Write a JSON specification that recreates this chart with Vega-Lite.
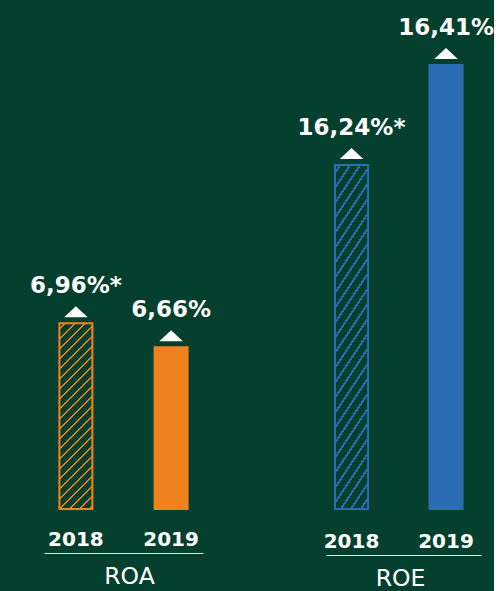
{
  "$schema": "https://vega.github.io/schema/vega-lite/v6.json",
  "background": "#053f2d",
  "padding": {"left": 29, "top": 5, "right": 0, "bottom": 0},
  "bounds": "flush",
  "spacing": 123,
  "config": {
    "view": {"stroke": null},
    "axis": {
      "labelFont": "DejaVu Sans",
      "labelFontWeight": "bold",
      "labelFontSize": 20,
      "labelColor": "#ffffff",
      "labelAngle": 0,
      "labelBaseline": "alphabetic",
      "ticks": false,
      "tickSize": 0,
      "domainColor": "#dfe5e2",
      "domainWidth": 1,
      "grid": false,
      "title": null
    },
    "title": {
      "font": "DejaVu Sans",
      "fontSize": 23.5,
      "fontWeight": "normal",
      "color": "#ffffff",
      "orient": "bottom",
      "anchor": "middle",
      "frame": "group",
      "offset": 12
    },
    "text": {"font": "DejaVu Sans", "fontWeight": "bold", "fontSize": 23, "color": "#ffffff", "baseline": "alphabetic", "align": "center"}
  },
  "data": {
    "values": [
      {"metric": "ROA", "year": "2018", "value": 6.96, "label": "6,96%*"},
      {"metric": "ROA", "year": "2019", "value": 6.66, "label": "6,66%"},
      {"metric": "ROE", "year": "2018", "value": 16.24, "label": "16,24%*"},
      {"metric": "ROE", "year": "2019", "value": 16.41, "label": "16,41%"}
    ]
  },
  "hconcat": [
    {
      "title": {"text": "ROA", "dx": 6},
      "width": 159,
      "height": 504,
      "transform": [{"filter": "datum.metric === 'ROA'"}],
      "encoding": {
        "x": {
          "field": "year", "type": "nominal",
          "scale": {"paddingInner": 0.33, "paddingOuter": 0},
          "axis": {"offset": 44, "labelPadding": -8}
        },
        "y": {
          "field": "value", "type": "quantitative",
          "scale": {"domain": [4.639, 10.939], "zero": false, "nice": false},
          "axis": null
        }
      },
      "layer": [
        {
          "transform": [{"filter": "datum.year === '2018'"}],
          "encoding": {"y2": {"datum": 4.639}},
          "mark": {
            "type": "bar", "width": 33, "stroke": "#f08220", "strokeWidth": 2,
            "fill": {
              "gradient": "linear", "x1": 0, "y1": 0, "x2": 0.2029, "y2": 1.1416,
              "stops": [
                {"offset": 0.0200, "color": "#053f2d"}, {"offset": 0.0200, "color": "#f08220"}, {"offset": 0.0310, "color": "#f08220"}, {"offset": 0.0310, "color": "#053f2d"},
                {"offset": 0.0657, "color": "#053f2d"}, {"offset": 0.0657, "color": "#f08220"}, {"offset": 0.0767, "color": "#f08220"}, {"offset": 0.0767, "color": "#053f2d"},
                {"offset": 0.1114, "color": "#053f2d"}, {"offset": 0.1114, "color": "#f08220"}, {"offset": 0.1224, "color": "#f08220"}, {"offset": 0.1224, "color": "#053f2d"},
                {"offset": 0.1572, "color": "#053f2d"}, {"offset": 0.1572, "color": "#f08220"}, {"offset": 0.1682, "color": "#f08220"}, {"offset": 0.1682, "color": "#053f2d"},
                {"offset": 0.2029, "color": "#053f2d"}, {"offset": 0.2029, "color": "#f08220"}, {"offset": 0.2139, "color": "#f08220"}, {"offset": 0.2139, "color": "#053f2d"},
                {"offset": 0.2486, "color": "#053f2d"}, {"offset": 0.2486, "color": "#f08220"}, {"offset": 0.2596, "color": "#f08220"}, {"offset": 0.2596, "color": "#053f2d"},
                {"offset": 0.2943, "color": "#053f2d"}, {"offset": 0.2943, "color": "#f08220"}, {"offset": 0.3053, "color": "#f08220"}, {"offset": 0.3053, "color": "#053f2d"},
                {"offset": 0.3400, "color": "#053f2d"}, {"offset": 0.3400, "color": "#f08220"}, {"offset": 0.3510, "color": "#f08220"}, {"offset": 0.3510, "color": "#053f2d"},
                {"offset": 0.3858, "color": "#053f2d"}, {"offset": 0.3858, "color": "#f08220"}, {"offset": 0.3968, "color": "#f08220"}, {"offset": 0.3968, "color": "#053f2d"},
                {"offset": 0.4315, "color": "#053f2d"}, {"offset": 0.4315, "color": "#f08220"}, {"offset": 0.4425, "color": "#f08220"}, {"offset": 0.4425, "color": "#053f2d"},
                {"offset": 0.4772, "color": "#053f2d"}, {"offset": 0.4772, "color": "#f08220"}, {"offset": 0.4882, "color": "#f08220"}, {"offset": 0.4882, "color": "#053f2d"},
                {"offset": 0.5229, "color": "#053f2d"}, {"offset": 0.5229, "color": "#f08220"}, {"offset": 0.5339, "color": "#f08220"}, {"offset": 0.5339, "color": "#053f2d"},
                {"offset": 0.5686, "color": "#053f2d"}, {"offset": 0.5686, "color": "#f08220"}, {"offset": 0.5796, "color": "#f08220"}, {"offset": 0.5796, "color": "#053f2d"},
                {"offset": 0.6144, "color": "#053f2d"}, {"offset": 0.6144, "color": "#f08220"}, {"offset": 0.6254, "color": "#f08220"}, {"offset": 0.6254, "color": "#053f2d"},
                {"offset": 0.6601, "color": "#053f2d"}, {"offset": 0.6601, "color": "#f08220"}, {"offset": 0.6711, "color": "#f08220"}, {"offset": 0.6711, "color": "#053f2d"},
                {"offset": 0.7058, "color": "#053f2d"}, {"offset": 0.7058, "color": "#f08220"}, {"offset": 0.7168, "color": "#f08220"}, {"offset": 0.7168, "color": "#053f2d"},
                {"offset": 0.7515, "color": "#053f2d"}, {"offset": 0.7515, "color": "#f08220"}, {"offset": 0.7625, "color": "#f08220"}, {"offset": 0.7625, "color": "#053f2d"},
                {"offset": 0.7972, "color": "#053f2d"}, {"offset": 0.7972, "color": "#f08220"}, {"offset": 0.8082, "color": "#f08220"}, {"offset": 0.8082, "color": "#053f2d"},
                {"offset": 0.8430, "color": "#053f2d"}, {"offset": 0.8430, "color": "#f08220"}, {"offset": 0.8540, "color": "#f08220"}, {"offset": 0.8540, "color": "#053f2d"},
                {"offset": 0.8887, "color": "#053f2d"}, {"offset": 0.8887, "color": "#f08220"}, {"offset": 0.8997, "color": "#f08220"}, {"offset": 0.8997, "color": "#053f2d"},
                {"offset": 0.9344, "color": "#053f2d"}, {"offset": 0.9344, "color": "#f08220"}, {"offset": 0.9454, "color": "#f08220"}, {"offset": 0.9454, "color": "#053f2d"},
                {"offset": 0.9801, "color": "#053f2d"}, {"offset": 0.9801, "color": "#f08220"}, {"offset": 0.9911, "color": "#f08220"}, {"offset": 0.9911, "color": "#053f2d"}
              ]
            }
          }
        },
        {
          "transform": [{"filter": "datum.year === '2019'"}],
          "encoding": {"y2": {"datum": 4.639}},
          "mark": {"type": "bar", "width": 33, "fill": "#f08220", "stroke": "#f08220", "strokeWidth": 2}
        },
        {
          "mark": {"type": "text", "dy": -30},
          "encoding": {"text": {"field": "label"}}
        },
        {
          "mark": {"type": "point", "shape": "M-1,-0.51L1,-0.51L0,-1.45Z", "size": 552, "filled": true, "fill": "#ffffff", "opacity": 1, "strokeWidth": 0}
        }
      ]
    },
    {
      "title": {"text": "ROE", "dx": -3},
      "width": 155,
      "height": 504,
      "transform": [{"filter": "datum.metric === 'ROE'"}],
      "encoding": {
        "x": {
          "field": "year", "type": "nominal",
          "scale": {"paddingInner": 0.46, "paddingOuter": 0.05, "align": 0},
          "axis": {"offset": 46, "labelPadding": -7.5}
        },
        "y": {
          "field": "value", "type": "quantitative",
          "scale": {"domain": [15.655, 16.5119], "zero": false, "nice": false},
          "axis": null
        }
      },
      "layer": [
        {
          "transform": [{"filter": "datum.year === '2018'"}],
          "encoding": {"y2": {"datum": 15.655}},
          "mark": {
            "type": "bar", "width": 33, "stroke": "#2a6db4", "strokeWidth": 2,
            "fill": {
              "gradient": "linear", "x1": 0, "y1": 0, "x2": 0.1613, "y2": 1.1207,
              "stops": [
                {"offset": 0.0150, "color": "#053f2d"}, {"offset": 0.0150, "color": "#2a6db4"}, {"offset": 0.0242, "color": "#2a6db4"}, {"offset": 0.0242, "color": "#053f2d"},
                {"offset": 0.0531, "color": "#053f2d"}, {"offset": 0.0531, "color": "#2a6db4"}, {"offset": 0.0623, "color": "#2a6db4"}, {"offset": 0.0623, "color": "#053f2d"},
                {"offset": 0.0912, "color": "#053f2d"}, {"offset": 0.0912, "color": "#2a6db4"}, {"offset": 0.1004, "color": "#2a6db4"}, {"offset": 0.1004, "color": "#053f2d"},
                {"offset": 0.1294, "color": "#053f2d"}, {"offset": 0.1294, "color": "#2a6db4"}, {"offset": 0.1386, "color": "#2a6db4"}, {"offset": 0.1386, "color": "#053f2d"},
                {"offset": 0.1675, "color": "#053f2d"}, {"offset": 0.1675, "color": "#2a6db4"}, {"offset": 0.1767, "color": "#2a6db4"}, {"offset": 0.1767, "color": "#053f2d"},
                {"offset": 0.2056, "color": "#053f2d"}, {"offset": 0.2056, "color": "#2a6db4"}, {"offset": 0.2148, "color": "#2a6db4"}, {"offset": 0.2148, "color": "#053f2d"},
                {"offset": 0.2437, "color": "#053f2d"}, {"offset": 0.2437, "color": "#2a6db4"}, {"offset": 0.2529, "color": "#2a6db4"}, {"offset": 0.2529, "color": "#053f2d"},
                {"offset": 0.2818, "color": "#053f2d"}, {"offset": 0.2818, "color": "#2a6db4"}, {"offset": 0.2910, "color": "#2a6db4"}, {"offset": 0.2910, "color": "#053f2d"},
                {"offset": 0.3200, "color": "#053f2d"}, {"offset": 0.3200, "color": "#2a6db4"}, {"offset": 0.3292, "color": "#2a6db4"}, {"offset": 0.3292, "color": "#053f2d"},
                {"offset": 0.3581, "color": "#053f2d"}, {"offset": 0.3581, "color": "#2a6db4"}, {"offset": 0.3673, "color": "#2a6db4"}, {"offset": 0.3673, "color": "#053f2d"},
                {"offset": 0.3962, "color": "#053f2d"}, {"offset": 0.3962, "color": "#2a6db4"}, {"offset": 0.4054, "color": "#2a6db4"}, {"offset": 0.4054, "color": "#053f2d"},
                {"offset": 0.4343, "color": "#053f2d"}, {"offset": 0.4343, "color": "#2a6db4"}, {"offset": 0.4435, "color": "#2a6db4"}, {"offset": 0.4435, "color": "#053f2d"},
                {"offset": 0.4724, "color": "#053f2d"}, {"offset": 0.4724, "color": "#2a6db4"}, {"offset": 0.4816, "color": "#2a6db4"}, {"offset": 0.4816, "color": "#053f2d"},
                {"offset": 0.5106, "color": "#053f2d"}, {"offset": 0.5106, "color": "#2a6db4"}, {"offset": 0.5198, "color": "#2a6db4"}, {"offset": 0.5198, "color": "#053f2d"},
                {"offset": 0.5487, "color": "#053f2d"}, {"offset": 0.5487, "color": "#2a6db4"}, {"offset": 0.5579, "color": "#2a6db4"}, {"offset": 0.5579, "color": "#053f2d"},
                {"offset": 0.5868, "color": "#053f2d"}, {"offset": 0.5868, "color": "#2a6db4"}, {"offset": 0.5960, "color": "#2a6db4"}, {"offset": 0.5960, "color": "#053f2d"},
                {"offset": 0.6249, "color": "#053f2d"}, {"offset": 0.6249, "color": "#2a6db4"}, {"offset": 0.6341, "color": "#2a6db4"}, {"offset": 0.6341, "color": "#053f2d"},
                {"offset": 0.6630, "color": "#053f2d"}, {"offset": 0.6630, "color": "#2a6db4"}, {"offset": 0.6722, "color": "#2a6db4"}, {"offset": 0.6722, "color": "#053f2d"},
                {"offset": 0.7012, "color": "#053f2d"}, {"offset": 0.7012, "color": "#2a6db4"}, {"offset": 0.7104, "color": "#2a6db4"}, {"offset": 0.7104, "color": "#053f2d"},
                {"offset": 0.7393, "color": "#053f2d"}, {"offset": 0.7393, "color": "#2a6db4"}, {"offset": 0.7485, "color": "#2a6db4"}, {"offset": 0.7485, "color": "#053f2d"},
                {"offset": 0.7774, "color": "#053f2d"}, {"offset": 0.7774, "color": "#2a6db4"}, {"offset": 0.7866, "color": "#2a6db4"}, {"offset": 0.7866, "color": "#053f2d"},
                {"offset": 0.8155, "color": "#053f2d"}, {"offset": 0.8155, "color": "#2a6db4"}, {"offset": 0.8247, "color": "#2a6db4"}, {"offset": 0.8247, "color": "#053f2d"},
                {"offset": 0.8536, "color": "#053f2d"}, {"offset": 0.8536, "color": "#2a6db4"}, {"offset": 0.8628, "color": "#2a6db4"}, {"offset": 0.8628, "color": "#053f2d"},
                {"offset": 0.8918, "color": "#053f2d"}, {"offset": 0.8918, "color": "#2a6db4"}, {"offset": 0.9010, "color": "#2a6db4"}, {"offset": 0.9010, "color": "#053f2d"},
                {"offset": 0.9299, "color": "#053f2d"}, {"offset": 0.9299, "color": "#2a6db4"}, {"offset": 0.9391, "color": "#2a6db4"}, {"offset": 0.9391, "color": "#053f2d"},
                {"offset": 0.9680, "color": "#053f2d"}, {"offset": 0.9680, "color": "#2a6db4"}, {"offset": 0.9772, "color": "#2a6db4"}, {"offset": 0.9772, "color": "#053f2d"}
              ]
            }
          }
        },
        {
          "transform": [{"filter": "datum.year === '2019'"}],
          "encoding": {"y2": {"datum": 15.655}},
          "mark": {"type": "bar", "width": 33, "fill": "#2a6db4", "stroke": "#2a6db4", "strokeWidth": 2}
        },
        {
          "mark": {"type": "text", "dy": -30},
          "encoding": {"text": {"field": "label"}}
        },
        {
          "mark": {"type": "point", "shape": "M-1,-0.51L1,-0.51L0,-1.45Z", "size": 552, "filled": true, "fill": "#ffffff", "opacity": 1, "strokeWidth": 0}
        }
      ]
    }
  ]
}
